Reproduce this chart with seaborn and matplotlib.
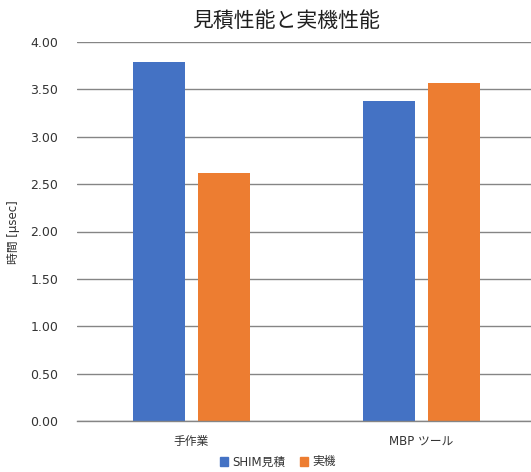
import matplotlib
matplotlib.use("Agg")
import matplotlib.pyplot as plt
import seaborn as sns
import pandas as pd

categories = ["手作業", "MBP ツール"]
series_names = ["SHIM見積", "実機"]
shim_values = [3.79, 3.38]
real_values = [2.62, 3.57]
yticks = [0.0, 0.5, 1.0, 1.5, 2.0, 2.5, 3.0, 3.5, 4.0]

sns.set_theme(style="white")
plt.rcParams['font.family'] = ['DejaVu Sans', 'Noto Sans CJK JP']

df = pd.DataFrame({
    "category": categories * 2,
    "series": [series_names[0]] * 2 + [series_names[1]] * 2,
    "value": shim_values + real_values,
})

W, H = 531, 472
fig = plt.figure(figsize=(W / 100, H / 100), dpi=100)
ax = fig.add_axes([76.5 / W, 1 - 421 / H, 460 / W, 379 / H])

sns.barplot(data=df, x="category", y="value", hue="series", order=categories,
            hue_order=series_names, palette=["#4472C4", "#ED7D31"],
            width=0.57, gap=0.207, ax=ax, legend=False, linewidth=0, saturation=1)

txt = "#333333"
ax.set_xlim(-0.5, 1.5)
ax.set_ylim(0, 4.0)
ax.set_yticks(yticks)
ax.set_yticklabels([f"{v:.2f}" for v in yticks], fontsize=9, color=txt)
ax.set_xticks([0, 1])
ax.set_xticklabels(categories, fontsize=8.5, color=txt)
ax.tick_params(axis="y", length=0, pad=13)
ax.tick_params(axis="x", length=0, pad=10)
ax.yaxis.grid(True, color="#858585", linewidth=1)
ax.set_axisbelow(True)
for s in ["left", "right", "top"]:
    ax.spines[s].set_visible(False)
ax.spines["bottom"].set_color("#858585")
ax.spines["bottom"].set_linewidth(1)
ax.set_xlabel("")
ax.set_ylabel("")

fig.text(14 / W, 1 - 232 / H, "時間 [μsec]", rotation=90, ha="center", va="center",
         fontsize=8.5, color=txt)
fig.text(286 / W, 1 - 21 / H, "見積性能と実機性能", ha="center", va="center",
         fontsize=15, color="#1f1f1f")

from matplotlib.patches import Patch
handles = [Patch(color="#4472C4"), Patch(color="#ED7D31")]
fig.legend(handles, series_names, loc="center", bbox_to_anchor=(278 / W, 1 - 462 / H),
           ncol=2, frameon=False, fontsize=8.5, handlelength=0.7, handleheight=0.7,
           handletextpad=0.4, columnspacing=1.2, labelcolor=txt)

fig.savefig("out.png", dpi=100)
